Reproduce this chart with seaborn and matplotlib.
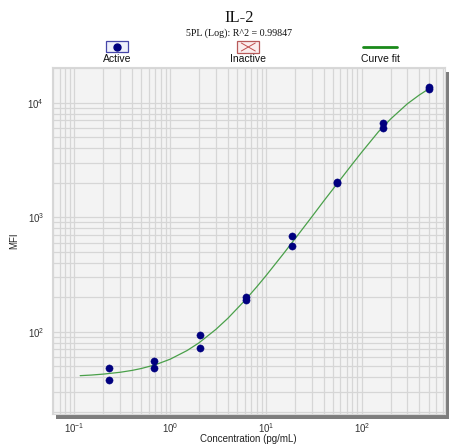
import matplotlib
matplotlib.use("Agg")
import matplotlib.pyplot as plt
from matplotlib.patches import Rectangle
from matplotlib.lines import Line2D
from matplotlib.ticker import LogLocator, NullFormatter
import seaborn as sns
import pandas as pd

# ---- data ----
conc = [0.2286, 0.6859, 2.058, 6.173, 18.52, 55.56, 166.7, 500.0]
mfi_rep1 = [48.5, 55.1, 94.2, 202, 692, 2050, 6600, 13700]
mfi_rep2 = [37.6, 48.2, 72.1, 190, 558, 1980, 6050, 13300]

curve_x = [0.115, 0.15, 0.2, 0.3, 0.4, 0.5, 0.7, 1.0, 1.5, 2.0, 3.0, 4.0, 6.0, 8.0,
           10, 15, 20, 30, 40, 60, 80, 100, 150, 200, 300, 400, 500]
curve_y = [41.3, 41.8, 42.6, 44.2, 45.9, 47.7, 51.4, 57.5, 68.4, 79.9, 104.7, 130.8,
           186.7, 246, 308, 472, 644, 1003, 1380, 2140, 2920, 3700, 5600, 7200,
           9800, 11700, 13200]

title = "IL-2"
subtitle = "5PL (Log): R^2 = 0.99847"
legend_labels = ["Active", "Inactive", "Curve fit"]
xlabel = "Concentration (pg/mL)"
ylabel = "MFI"

points = pd.DataFrame({"conc": conc + conc, "mfi": mfi_rep1 + mfi_rep2})

sns.set_style("white")
plt.rcParams["font.family"] = ["Liberation Sans", "DejaVu Sans"]

W, H = 449, 445
fig = plt.figure(figsize=(W / 100, H / 100), dpi=100)
fig.patch.set_facecolor("white")

l, r, t, b = 51.7, 444.7, 67.3, 414.0
ax = fig.add_axes([l / W, 1 - b / H, (r - l) / W, (b - t) / H])
ax.set_facecolor("#f3f3f3")

# drop shadow
sh = Rectangle(((l + 4) / W, 1 - (b + 4.5) / H), (r - l) / W, (b - t) / H,
               transform=fig.transFigure, facecolor="#7d7d7d", edgecolor="none",
               zorder=-1)
fig.patches.append(sh)

ax.set_xscale("log")
ax.set_yscale("log")
ax.set_xlim(0.058, 735)
ax.set_ylim(19.1, 20400)

ax.xaxis.set_major_locator(LogLocator(base=10, numticks=12))
ax.yaxis.set_major_locator(LogLocator(base=10, numticks=12))
ax.xaxis.set_minor_locator(LogLocator(base=10, subs=range(2, 10), numticks=12))
ax.yaxis.set_minor_locator(LogLocator(base=10, subs=range(2, 10), numticks=12))
ax.xaxis.set_minor_formatter(NullFormatter())
ax.yaxis.set_minor_formatter(NullFormatter())

ax.grid(True, which="both", color="#d6d6d6", linewidth=0.9)
ax.set_axisbelow(True)
for s in ax.spines.values():
    s.set_color("#d8d8d8")
    s.set_linewidth(0.8)

ax.tick_params(axis="both", which="major", direction="out", length=3.5, width=0.8,
               color="#bdbdbd", labelsize=7, labelcolor="#333333", pad=2)
ax.tick_params(axis="both", which="minor", length=0)
ax.tick_params(axis="x", which="major", pad=1.5)

sns.lineplot(x=curve_x, y=curve_y, ax=ax, color="#4aa04a", linewidth=0.9,
             zorder=3, legend=False)
sns.scatterplot(data=points, x="conc", y="mfi", ax=ax, color="#00007f",
                s=27, edgecolor="#00007f", linewidth=0.3, zorder=4, legend=False)

ax.set_xlabel(xlabel, fontsize=7, color="#222222")
ax.xaxis.set_label_coords(0.5, (414 - 434.5) / (b - t))
ax.set_ylabel(ylabel, fontsize=7, color="#222222", labelpad=6)

# titles
fig.text(239 / W, 1 - 18.5 / H, title, ha="center", va="center",
         fontsize=12, family=["Liberation Serif", "DejaVu Serif"], color="#111111")
fig.text(239 / W, 1 - 33.5 / H, subtitle, ha="center", va="center",
         fontsize=7.2, family=["Liberation Serif", "DejaVu Serif"], color="#111111")

# legend (manual, spread across top)
bw, bh = 22, 11
# Active
fig.patches.append(Rectangle(((117 - bw / 2) / W, 1 - 52 / H), bw / W, bh / H,
                             transform=fig.transFigure, facecolor="#eef0fb",
                             edgecolor="#4646a8", linewidth=0.9))
fig.add_artist(Line2D([117 / W], [1 - 46.5 / H], transform=fig.transFigure,
                      marker="o", markersize=5, color="#00007f", linestyle="none"))
# Inactive
cx = 248.3
fig.patches.append(Rectangle(((cx - bw / 2) / W, 1 - 52.5 / H), bw / W, bh / H,
                             transform=fig.transFigure, facecolor="#fbeeee",
                             edgecolor="#b85a5a", linewidth=0.9))
fig.add_artist(Line2D([(cx - 7) / W, (cx + 7) / W], [1 - 43 / H, 1 - 51 / H],
                      transform=fig.transFigure, color="#c05050", linewidth=0.7))
fig.add_artist(Line2D([(cx - 7) / W, (cx + 7) / W], [1 - 51 / H, 1 - 43 / H],
                      transform=fig.transFigure, color="#c05050", linewidth=0.7))
# Curve fit
fig.add_artist(Line2D([363 / W, 397 / W], [1 - 46.7 / H, 1 - 46.7 / H],
                      transform=fig.transFigure, color="#1a8a1a", linewidth=2))

for x0, lab in zip([117, 248.3, 380], legend_labels):
    fig.text(x0 / W, 1 - 59 / H, lab, ha="center", va="center", fontsize=7.5,
             color="#111111")

fig.savefig("out.png", dpi=100)
